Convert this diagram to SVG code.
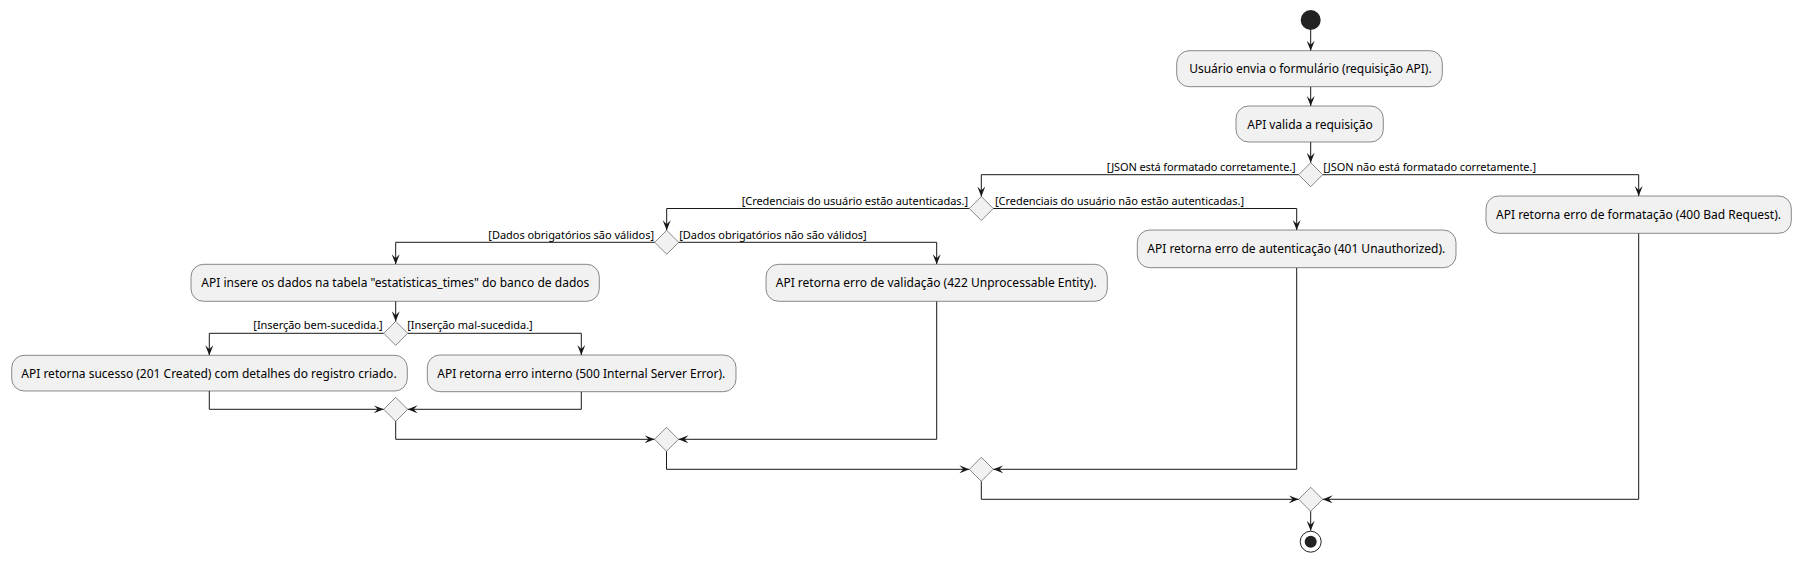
<svg xmlns="http://www.w3.org/2000/svg" width="1801" height="563" viewBox="0 0 1801 563">
<style>
.box{fill:#F1F1F1;stroke:#181818;stroke-width:0.5}
.dia{fill:#F1F1F1;stroke:#181818;stroke-width:0.5}
.bt{font-family:"Noto Sans","Open Sans","DejaVu Sans",sans-serif;font-size:12px;fill:#000}
.lt{font-family:"Noto Sans","Open Sans","DejaVu Sans",sans-serif;font-size:11px;fill:#000}
.ln{fill:none;stroke:#181818;stroke-width:1;marker-end:url(#ah)}
</style>
<defs>
<marker id="ah" viewBox="0 0 10 8" refX="10" refY="4" markerWidth="10" markerHeight="8" markerUnits="userSpaceOnUse" orient="auto">
<path d="M0,0 L10,4 L0,8 L4,4 Z" fill="#181818"/>
</marker>
</defs>
<rect width="1801" height="563" fill="#FFFFFF"/>
<g id="connectors">
<path class="ln" d="M1310.7,30 L1310.7,50.7"/>
<path class="ln" d="M1310.7,86.7 L1310.7,106"/>
<path class="ln" d="M1310.7,142 L1310.7,162.7"/>
<path class="ln" d="M1298.7,174.7 L981.3,174.7 L981.3,196.5"/>
<path class="ln" d="M1322.7,174.7 L1638.7,174.7 L1638.7,196"/>
<path class="ln" d="M969.3,208.5 L666.7,208.5 L666.7,230.3"/>
<path class="ln" d="M993.3,208.5 L1296.7,208.5 L1296.7,230"/>
<path class="ln" d="M654.7,242.3 L395.7,242.3 L395.7,264.3"/>
<path class="ln" d="M678.7,242.3 L936.7,242.3 L936.7,264.3"/>
<path class="ln" d="M395.7,301.3 L395.7,321.3"/>
<path class="ln" d="M383.7,333.3 L209.3,333.3 L209.3,355.3"/>
<path class="ln" d="M407.7,333.3 L581.3,333.3 L581.3,355"/>
<path class="ln" d="M209.3,391 L209.3,409.3 L383.7,409.3"/>
<path class="ln" d="M581.3,391.7 L581.3,409.3 L407.7,409.3"/>
<path class="ln" d="M395.7,421.3 L395.7,439.3 L654.5,439.3"/>
<path class="ln" d="M936.7,301.3 L936.7,439.3 L678.5,439.3"/>
<path class="ln" d="M666.5,451.3 L666.5,469.3 L969.3,469.3"/>
<path class="ln" d="M1296.7,267.7 L1296.7,469.3 L993.3,469.3"/>
<path class="ln" d="M981.3,481.3 L981.3,499.3 L1298.7,499.3"/>
<path class="ln" d="M1638.7,233.3 L1638.7,499.3 L1322.7,499.3"/>
<path class="ln" d="M1310.7,511.3 L1310.7,530.7"/>
</g>
<g id="labels">
<text class="lt" x="1106.7" y="170.7" textLength="189" lengthAdjust="spacing">[JSON está formatado corretamente.]</text>
<text class="lt" x="1323.3" y="170.7" textLength="212.7" lengthAdjust="spacing">[JSON não está formatado corretamente.]</text>
<text class="lt" x="741.7" y="205" textLength="226.3" lengthAdjust="spacing">[Credenciais do usuário estão autenticadas.]</text>
<text class="lt" x="995" y="205" textLength="249" lengthAdjust="spacing">[Credenciais do usuário não estão autenticadas.]</text>
<text class="lt" x="488.3" y="239" textLength="165.7" lengthAdjust="spacing">[Dados obrigatórios são válidos]</text>
<text class="lt" x="679.3" y="239" textLength="187.4" lengthAdjust="spacing">[Dados obrigatórios não são válidos]</text>
<text class="lt" x="253.3" y="329.3" textLength="129.4" lengthAdjust="spacing">[Inserção bem-sucedida.]</text>
<text class="lt" x="407.3" y="329.3" textLength="125.4" lengthAdjust="spacing">[Inserção mal-sucedida.]</text>
</g>
<g id="start"><circle cx="1310.7" cy="20" r="10" fill="#222222"/></g>
<g id="n1"><rect class="box" x="1176.7" y="50.7" width="265.6" height="36" rx="12.5"/><text class="bt" x="1189.3" y="73" textLength="242.3" lengthAdjust="spacing">Usuário envia o formulário (requisição API).</text></g>
<g id="n2"><rect class="box" x="1236" y="106" width="147.3" height="36" rx="12.5"/><text class="bt" x="1247.3" y="128.5" textLength="125.4" lengthAdjust="spacing">API valida a requisição</text></g>
<g id="d1"><polygon class="dia" points="1310.7,162.7 1322.7,174.7 1310.7,186.7 1298.7,174.7"/></g>
<g id="d2"><polygon class="dia" points="981.3,196.5 993.3,208.5 981.3,220.5 969.3,208.5"/></g>
<g id="n400"><rect class="box" x="1486" y="196" width="305.3" height="37.3" rx="12.5"/><text class="bt" x="1496" y="219" textLength="285" lengthAdjust="spacing">API retorna erro de formatação (400 Bad Request).</text></g>
<g id="d3"><polygon class="dia" points="666.7,230.3 678.7,242.3 666.7,254.3 654.7,242.3"/></g>
<g id="n401"><rect class="box" x="1137.3" y="230" width="318.7" height="37.7" rx="12.5"/><text class="bt" x="1147.3" y="253" textLength="298" lengthAdjust="spacing">API retorna erro de autenticação (401 Unauthorized).</text></g>
<g id="nInsert"><rect class="box" x="191" y="264.3" width="408.3" height="37" rx="12.5"/><text class="bt" x="201.3" y="287" textLength="388" lengthAdjust="spacing">API insere os dados na tabela "estatisticas_times" do banco de dados</text></g>
<g id="n422"><rect class="box" x="766" y="264.3" width="341.3" height="37" rx="12.5"/><text class="bt" x="775.7" y="287" textLength="321" lengthAdjust="spacing">API retorna erro de validação (422 Unprocessable Entity).</text></g>
<g id="d4"><polygon class="dia" points="395.7,321.3 407.7,333.3 395.7,345.3 383.7,333.3"/></g>
<g id="n201"><rect class="box" x="11.7" y="355.3" width="395.6" height="35.7" rx="12.5"/><text class="bt" x="21.3" y="377.5" textLength="375.3" lengthAdjust="spacing">API retorna sucesso (201 Created) com detalhes do registro criado.</text></g>
<g id="n500"><rect class="box" x="427.3" y="355" width="308.7" height="36.7" rx="12.5"/><text class="bt" x="437.3" y="377.5" textLength="288" lengthAdjust="spacing">API retorna erro interno (500 Internal Server Error).</text></g>
<g id="d5"><polygon class="dia" points="395.7,397.3 407.7,409.3 395.7,421.3 383.7,409.3"/></g>
<g id="d6"><polygon class="dia" points="666.5,427.3 678.5,439.3 666.5,451.3 654.5,439.3"/></g>
<g id="d7"><polygon class="dia" points="981.3,457.3 993.3,469.3 981.3,481.3 969.3,469.3"/></g>
<g id="d8"><polygon class="dia" points="1310.7,487.3 1322.7,499.3 1310.7,511.3 1298.7,499.3"/></g>
<g id="end"><circle cx="1310.7" cy="541.7" r="10.5" fill="none" stroke="#222222" stroke-width="1"/><circle cx="1310.7" cy="541.7" r="6" fill="#222222"/></g>
</svg>
